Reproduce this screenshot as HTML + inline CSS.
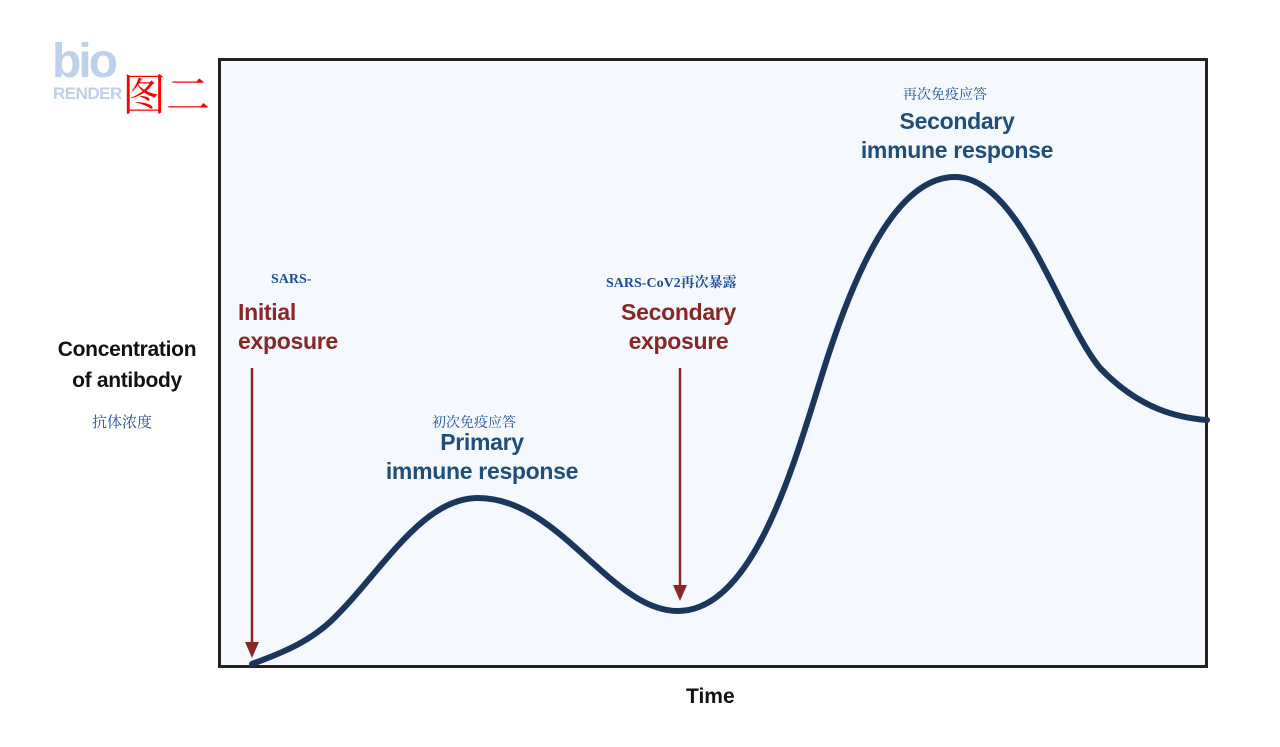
<!DOCTYPE html>
<html><head><meta charset="utf-8"><style>
body{margin:0;width:1280px;height:747px;background:#fff;position:relative;overflow:hidden;font-family:"Liberation Sans","Noto Sans CJK SC",sans-serif}
.t{position:absolute;white-space:nowrap}
</style></head><body>
<div class="t" style="left:52px;top:34px;font-size:48px;font-weight:bold;color:#bfd0ea;letter-spacing:-3px">bio</div>
<div class="t" style="left:53px;top:84px;font-size:17px;font-weight:bold;color:#bfd0ea;letter-spacing:-0.5px">RENDER</div>
<div class="t" style="left:122px;top:66px;font-size:44px;color:#f00;font-family:'Noto Serif CJK SC',serif;line-height:50px">图二</div>
<svg width="1280" height="747" style="position:absolute;left:0;top:0">
<rect x="219.5" y="59.5" width="987" height="607" fill="#f5f8fd" stroke="#222" stroke-width="3"/>
<path d="M252,664 C290,650 310,640 330,622 C380,575 420,498 478,498 C560,498 610,611 678,611 C760,611 800,440 830,350 C860,260 900,177 955,177 C1020,177 1060,320 1100,368 C1140,410 1180,418 1207,420" fill="none" stroke="#1b365d" stroke-width="6" stroke-linecap="round"/>
<line x1="252" y1="368" x2="252" y2="645" stroke="#8b2626" stroke-width="2.5"/>
<polygon points="245,642 259,642 252,658" fill="#8b2626"/>
<line x1="680" y1="368" x2="680" y2="588" stroke="#8b2626" stroke-width="2.5"/>
<polygon points="673,585 687,585 680,601" fill="#8b2626"/>
</svg>
<div class="t" style="left:271px;top:272px;font-size:14px;font-weight:bold;color:#1f4e99;font-family:'Liberation Serif',serif">SARS-</div>
<div class="t" style="left:238px;top:298px;font-size:23px;font-weight:bold;color:#8b2626;line-height:29px;letter-spacing:-0.3px">Initial<br>exposure</div>
<div class="t" style="left:606px;top:272px;font-size:14px;font-weight:bold;color:#1f4e99;font-family:'Liberation Serif','Noto Serif CJK SC',serif">SARS-CoV2再次暴露</div>
<div class="t" style="left:600px;top:298px;width:157px;text-align:center;font-size:23px;font-weight:bold;color:#8b2626;line-height:29px;letter-spacing:-0.3px">Secondary<br>exposure</div>
<div class="t" style="left:432px;top:412px;font-size:14px;color:#1f4e99;font-family:'Noto Serif CJK SC',serif">初次免疫应答</div>
<div class="t" style="left:380px;top:428px;width:204px;text-align:center;font-size:23px;font-weight:bold;color:#1f4e7a;line-height:29px;letter-spacing:-0.3px">Primary<br>immune response</div>
<div class="t" style="left:903px;top:84px;font-size:14px;color:#1f4e99;font-family:'Noto Serif CJK SC',serif">再次免疫应答</div>
<div class="t" style="left:855px;top:107px;width:204px;text-align:center;font-size:23px;font-weight:bold;color:#1f4e7a;line-height:29px;letter-spacing:-0.3px">Secondary<br>immune response</div>
<div class="t" style="left:50px;top:334px;width:154px;text-align:center;font-size:21px;font-weight:bold;color:#111;line-height:31px;letter-spacing:-0.3px">Concentration<br>of antibody</div>
<div class="t" style="left:92px;top:411px;font-size:15px;color:#1f4e99;font-family:'Noto Serif CJK SC',serif">抗体浓度</div>
<div class="t" style="left:686px;top:685px;font-size:21px;font-weight:bold;color:#111">Time</div>
</body></html>
